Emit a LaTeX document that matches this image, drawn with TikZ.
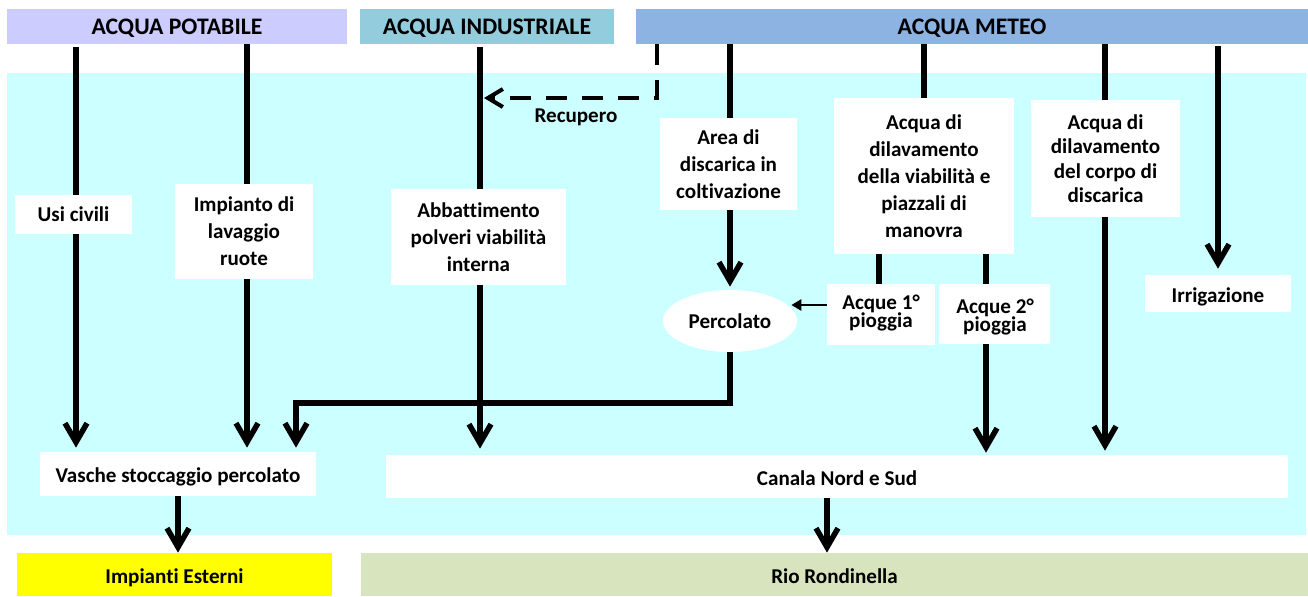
\documentclass[tikz,border=0pt]{standalone}
\usepackage{fontspec}
\setmainfont{Carlito}[Ligatures={NoCommon,NoRequired,NoContextual}]
\usetikzlibrary{arrows.meta,calc,shapes.geometric}
\definecolor{cPot}{HTML}{CCCCFF}
\definecolor{cInd}{HTML}{93CDDD}
\definecolor{cMet}{HTML}{8DB3E2}
\definecolor{cCyan}{HTML}{CCFFFF}
\definecolor{cYel}{HTML}{FFFF00}
\definecolor{cRio}{HTML}{D7E4BD}
\newcommand{\bodyfont}{\bfseries\fontsize{12}{15.3}\selectfont}
\newcommand{\tightfont}{\bfseries\fontsize{12}{10.5}\selectfont}
\newcommand{\midfont}{\bfseries\fontsize{12}{13.9}\selectfont}
\newcommand{\hdrfont}{\bfseries\fontsize{13.5}{16}\selectfont}
\newcommand{\low}[2]{\raisebox{-#1cm}{#2}}
\newcommand{\bx}[7]{\node[#2, minimum width={(#5-#3)*0.02cm}, minimum height={(#6-#4)*0.02cm}] (#1) at ({(#3+#5)/2},{(#4+#6)/2}) {#7};}
\pgfdeclarelayer{back}
\pgfdeclarelayer{lines}
\pgfsetlayers{back,lines,main}
\begin{document}
\begin{tikzpicture}[x=0.02cm,y=-0.02cm,
  wbox/.style={fill=white, draw=none, inner sep=0pt, align=center, font=\bodyfont},
  hdr/.style={draw=none, inner sep=0pt, font=\hdrfont, text depth=0pt},
  flow/.style={line width=0.11cm, -{Straight Barb[length=0.38cm,width=0.44cm]}},
  plain/.style={line width=0.11cm},
  dline/.style={line width=0.08cm, dash pattern=on 0.42cm off 0.3cm, -{Straight Barb[length=0.3cm,width=0.36cm]}},
  thinarr/.style={line width=0.05cm, -{Triangle[length=0.2cm,width=0.22cm]}}]
\useasboundingbox (0,0) rectangle (1308,596);
\begin{pgfonlayer}{back}
\fill[cCyan] (7,73) rectangle (1306,535);
\end{pgfonlayer}
% headers
\bx{hp}{hdr,fill=cPot}{7}{9}{347}{44}{ACQUA POTABILE}
\bx{hi}{hdr,fill=cInd}{360}{9}{614}{44}{ACQUA INDUSTRIALE}
\bx{hm}{hdr,fill=cMet}{636}{9}{1308}{44}{ACQUA METEO}
% bottom targets
\bx{imp}{hdr,font=\bodyfont,fill=cYel}{17}{553}{332}{596}{\low{0.08}{Impianti Esterni}}
\bx{rio}{hdr,font=\bodyfont,fill=cRio}{361}{553}{1308}{596}{\low{0.08}{Rio Rondinella}}
% boxes
\bx{usi}{wbox}{15}{195}{132}{234}{Usi civili}
\bx{lav}{wbox}{175}{184}{313}{279}{Impianto di\\lavaggio\\ruote}
\bx{abb}{wbox}{391}{189}{566}{285}{Abbattimento\\polveri viabilità\\interna}
\bx{area}{wbox}{660}{118}{797}{210}{Area di\\discarica in\\coltivazione}
\bx{dilv}{wbox}{834}{98}{1014}{254}{Acqua di\\dilavamento\\della viabilità e\\piazzali di\\manovra}
\bx{dilc}{wbox,font=\midfont}{1031}{100}{1180}{217}{Acqua di\\dilavamento\\del corpo di\\discarica}
\bx{irr}{wbox,text depth=0pt}{1145}{275}{1291}{312}{\low{0.06}{Irrigazione}}
\bx{a1}{wbox}{827}{284}{935}{345}{}
\bx{a2}{wbox}{939}{284}{1050}{344}{}
\node[font=\tightfont, align=center, inner sep=0pt] (t1) at (881,313) {Acque 1°\\pioggia};
\node[font=\tightfont, align=center, inner sep=0pt] (t2) at (995,317) {Acque 2°\\pioggia};
\node[wbox, ellipse, minimum width=2.68cm, minimum height=1.24cm] (perc) at (730,321) {Percolato};
\bx{vas}{wbox,text depth=0pt}{40}{452}{316}{496}{\low{0.06}{Vasche stoccaggio percolato}}
\bx{can}{wbox,text depth=0pt}{386}{455}{1288}{498}{\low{0.06}{Canala Nord e Sud}}
\node[font=\bodyfont, inner sep=0pt] (rec) at (576,117) {Recupero};
% column coordinates
\coordinate (xu) at (76,0);
\coordinate (xl) at (247,0);
\coordinate (xa) at (480,0);
\coordinate (xd) at (657,0);
\coordinate (xar) at (730,0);
\coordinate (xdv) at (924,0);
\coordinate (x1) at (879,0);
\coordinate (x2) at (986,0);
\coordinate (xc) at (1105,0);
\coordinate (xi) at (1218,0);
\coordinate (xv) at (296,0);
\coordinate (xvo) at (178,0);
\coordinate (xco) at (827,0);
\coordinate (yrec) at (0,98);
\coordinate (yh) at (0,403);
% connectors
\begin{pgfonlayer}{lines}
\draw[flow, shorten <=0.06cm, shorten >=0.08cm] (hp.south -| xu) -- (vas.north -| xu);
\draw[flow, shorten >=0.08cm] (hp.south -| xl) -- (vas.north -| xl);
\draw[flow, shorten <=0.06cm, shorten >=0.12cm] (hi.south -| xa) -- (can.north -| xa);
\draw[dline, shorten >=0.08cm] (hm.south -| xd) -- (xd |- yrec) -- (xa |- yrec);
\draw[flow, shorten >=0.06cm] (hm.south -| xar) -- (perc.north -| xar);
\draw[plain] (hm.south -| xdv) -- (dilv.north -| xdv);
\draw[plain] (dilv.south -| x1) -- (a1.north -| x1);
\draw[plain] (dilv.south -| x2) -- (a2.north -| x2);
\draw[flow, shorten >=0.04cm] (a2.south -| x2) -- (can.north -| x2);
\draw[flow, shorten >=0.08cm] (hm.south -| xc) -- (can.north -| xc);
\draw[flow, shorten <=0.04cm, shorten >=0.12cm] (hm.south -| xi) -- (irr.north -| xi);
\draw[thinarr] ($(a1.west)+(0,-9.5)$) -- ($(a1.west -| perc.east)+(-6,-9.5)$);
\draw[flow, shorten >=0.08cm] (perc.south) -- (xar |- yh) -- (xv |- yh) -- (vas.north -| xv);
\draw[flow] (vas.south -| xvo) -- (imp.north -| xvo);
\draw[flow] (can.south -| xco) -- (rio.north -| xco);
\end{pgfonlayer}
\end{tikzpicture}
\end{document}
